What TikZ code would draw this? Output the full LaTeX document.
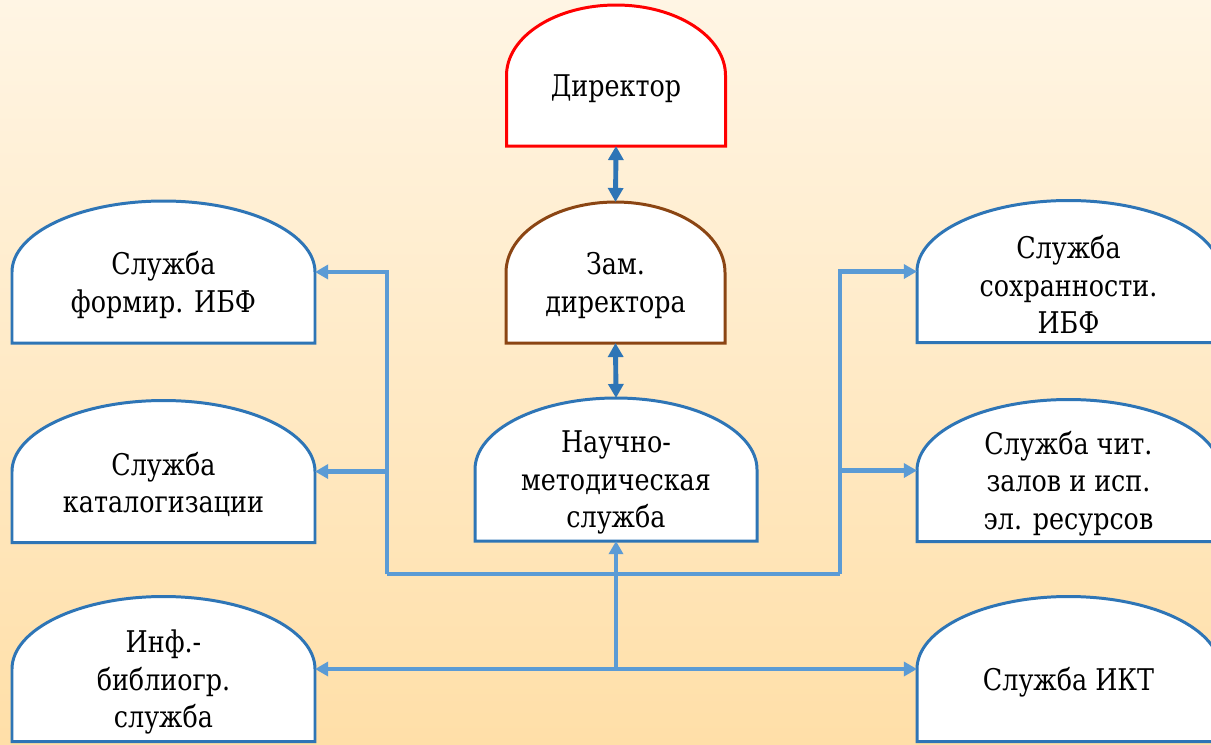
\documentclass[tikz,border=0pt]{standalone}
\usepackage{fontspec}
\setmainfont{DejaVu Serif}[FakeStretch=0.85]
\usetikzlibrary{arrows.meta,calc}
\definecolor{boxblue}{HTML}{2E75B6}
\definecolor{linkblue}{HTML}{5B9BD5}
\definecolor{zambrown}{HTML}{8B4513}
\definecolor{bgtop}{HTML}{FFF5E4}
\definecolor{bgbottom}{HTML}{FFDFA8}
\pgfdeclarelayer{back}
\pgfdeclarelayer{shapes}
\pgfsetlayers{back,shapes,main}
\tikzset{
  unit/.style={minimum width=6.06cm, minimum height=2.84cm, inner sep=0pt, outer sep=0pt},
  head/.style={unit, minimum width=4.38cm, minimum height=2.82cm},
  lbl/.style={align=center, yshift=-0.26cm, font=\fontsize{17}{21.5}\selectfont},
  link/.style={draw=linkblue, line width=2.8pt, -{Triangle[length=7.5pt,width=8pt]}},
  bus/.style={draw=linkblue, line width=2.8pt},
  chain/.style={draw=boxblue, line width=2.8pt, {Triangle[length=8pt,width=8.5pt]}-{Triangle[length=8pt,width=8.5pt]}}
}
% dome: flat bottom, half-ellipse on top
\newcommand{\dome}[2]{%
  \draw[line width=1.7pt, draw=#2, fill=white] let \p1=(#1.west), \p2=(#1.east), \p3=(#1.north) in
    (#1.south west) -- (\p1) arc[start angle=180, end angle=0, x radius={0.5*(\x2-\x1)}, y radius={\y3-\y1}]
    -- (#1.south east) -- cycle;}

\begin{document}
\begin{tikzpicture}

\useasboundingbox (0,0) rectangle (24.22,-14.88);
\begin{pgfonlayer}{back}
\shade[top color=bgtop, bottom color=bgbottom] (0,0) rectangle (24.22,-14.88);
\end{pgfonlayer}

% centre column
\node[head, label={[lbl]center:Директор}] (dir) at (12.32,-1.51) {};
\node[head, label={[lbl]center:{Зам.\\директора}}] (zam) at (12.31,-5.45) {};
\node[unit, minimum width=5.64cm, minimum height=2.86cm, label={[lbl]center:{Научно-\\методическая\\служба}}] (nauch) at (12.32,-9.39) {};

% left column
\node[unit, label={[lbl]center:{Служба\\формир. ИБФ}}] (form) at (3.27,-5.44) {};
\node[unit, label={[lbl]center:{Служба\\каталогизации}}] (katal) at (3.27,-9.43) {};
\node[unit, minimum height=2.9cm, label={[lbl]center:{Инф.-\\библиогр.\\служба}}] (inf) at (3.27,-13.38) {};

% right column
\node[unit, label={[lbl]center:{Служба\\сохранности.\\ИБФ}}] (sohr) at (21.37,-5.43) {};
\node[unit, label={[lbl]center:{Служба чит.\\залов и исп.\\эл. ресурсов}}] (chit) at (21.37,-9.41) {};
\node[unit, minimum height=2.9cm, label={[lbl]center:Служба ИКТ}] (ikt) at (21.37,-13.38) {};

\begin{pgfonlayer}{shapes}
\dome{dir}{red}
\dome{zam}{zambrown}
\foreach \b in {nauch,form,katal,inf,sohr,chit,ikt}
  \dome{\b}{boxblue};
\end{pgfonlayer}

\draw[chain] (dir.south) -- (zam.north);
\draw[chain] (zam.south) -- (nauch.north);

\coordinate (lb) at (7.74,-11.48);
\coordinate (rb) at (16.8,-11.48);
\coordinate (mb) at (nauch.south |- inf.east);

\draw[bus] (lb) -- (rb);
\draw[link] (lb) |- (form.east);
\draw[link] (lb |- katal.east) -- (katal.east);
\draw[link] (rb) |- (sohr.west);
\draw[link] (rb |- chit.west) -- (chit.west);

\draw[link] (mb) -- (nauch.south);
\draw[link] (mb) -- (inf.east);
\draw[link] (mb) -- (ikt.west);

\end{tikzpicture}
\end{document}
